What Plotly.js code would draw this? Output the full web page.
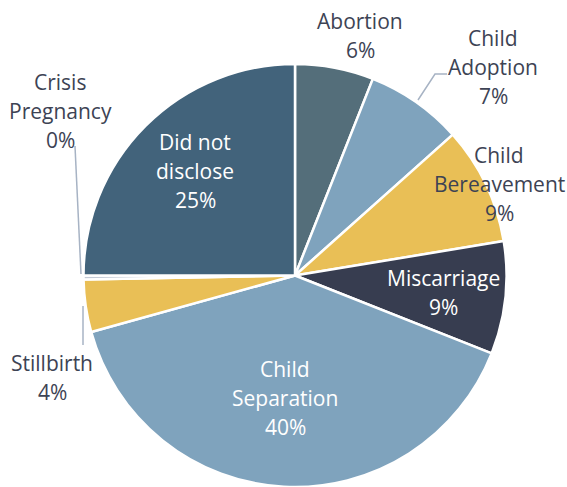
<!DOCTYPE html>
<html>
<head>
<meta charset="utf-8">
<script src="https://cdn.plot.ly/plotly-3.0.1.min.js"></script>
<style>html,body{margin:0;padding:0;background:#fff;}#chart{width:567px;height:487px;}</style>
</head>
<body>
<div id="chart"></div>
<script>
// ---- data ----
const categories = ["Abortion", "Child Adoption", "Child Bereavement", "Miscarriage",
                    "Child Separation", "Stillbirth", "Crisis Pregnancy", "Did not disclose"];
const labelLines = [["Abortion"], ["Child", "Adoption"], ["Child", "Bereavement"], ["Miscarriage"],
                    ["Child", "Separation"], ["Stillbirth"], ["Crisis", "Pregnancy"], ["Did not", "disclose"]];
const values = [6.0, 7.4, 9.0, 8.6, 39.7, 4.0, 0.3, 25.0];

// ---- style ----
const W = 567, H = 487;
const sliceColors = ["#546e7a", "#7fa3bd", "#e9bf56", "#373d50", "#7fa3bd", "#e9bf56", "#c3cad6", "#42637b"];
const darkText = "#3d4354";
const textColors = [darkText, darkText, darkText, "#ffffff", "#ffffff", darkText, darkText, "#ffffff"];
// label block anchor (centre x, first-line centre y) in pixels
const labelAnchor = [[360, 21], [493, 38], [499, 155], [443, 278], [285, 369], [52, 363], [60, 82], [195, 142]];
const lineGap = 29;

const total = values.reduce((a, b) => a + b, 0);
const annotations = [];
categories.forEach((c, i) => {
  const lines = labelLines[i].concat([Math.round(values[i] / total * 100) + "%"]);
  lines.forEach((t, k) => {
    annotations.push({
      xref: "paper", yref: "paper",
      x: labelAnchor[i][0] / W, y: 1 - (labelAnchor[i][1] + k * lineGap) / H,
      xanchor: "center", yanchor: "middle", showarrow: false,
      text: t, font: {family: "Open Sans", size: 21, color: textColors[i]}
    });
  });
});

const px = (x) => x / W, py = (y) => 1 - y / H;
const lineStyle = {color: "#a7b3c4", width: 1.5};
const shapes = [
  {type: "path", xref: "paper", yref: "paper",
   path: `M ${px(418)} ${py(100)} L ${px(435)} ${py(74)} L ${px(447)} ${py(74)}`, line: lineStyle},
  {type: "line", xref: "paper", yref: "paper", x0: px(75), y0: py(146), x1: px(81), y1: py(274), line: lineStyle},
  {type: "line", xref: "paper", yref: "paper", x0: px(83), y0: py(306), x1: px(83), y1: py(345), line: lineStyle}
];

const cx = 295, cy = 276, r = 212;
const trace = {
  type: "pie",
  labels: categories,
  values: values,
  sort: false,
  direction: "clockwise",
  rotation: 0,
  textinfo: "none",
  hoverinfo: "label+percent",
  marker: {colors: sliceColors, line: {color: "#ffffff", width: 2.5}},
  domain: {x: [(cx - r) / W, (cx + r) / W], y: [1 - (cy + r) / H, 1 - (cy - r) / H]},
  showlegend: false
};

Plotly.newPlot("chart", [trace], {
  width: W, height: H,
  margin: {l: 0, r: 0, t: 0, b: 0},
  paper_bgcolor: "#ffffff",
  showlegend: false,
  annotations: annotations,
  shapes: shapes
}, {displayModeBar: false, staticPlot: true});
</script>
</body>
</html>
